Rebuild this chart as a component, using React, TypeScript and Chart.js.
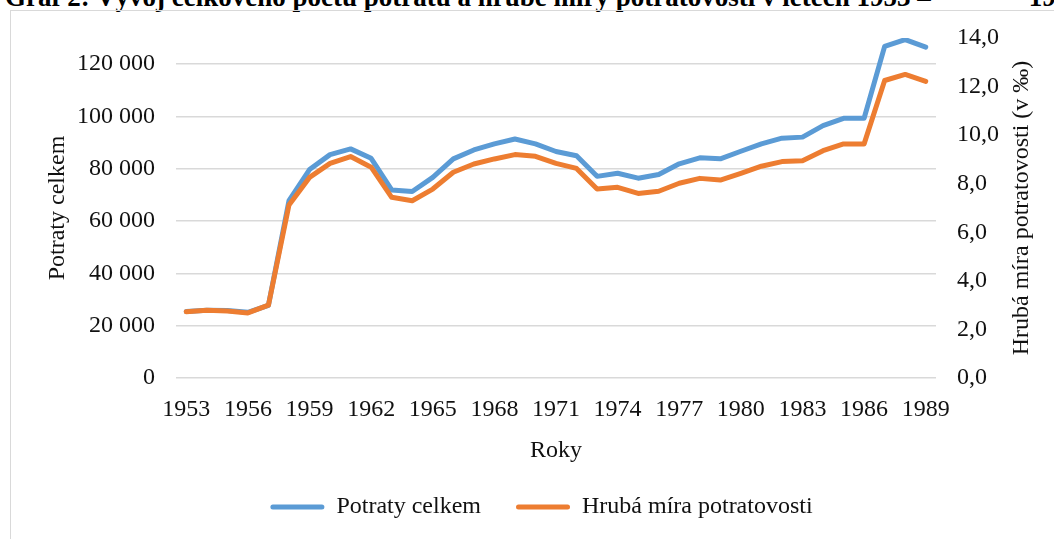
import React, { useEffect, useRef } from 'react';
import { Chart, registerables } from 'chart.js';

Chart.register(...registerables);

const years = [
  '1953', '1954', '1955', '1956', '1957', '1958', '1959', '1960', '1961', '1962',
  '1963', '1964', '1965', '1966', '1967', '1968', '1969', '1970', '1971', '1972',
  '1973', '1974', '1975', '1976', '1977', '1978', '1979', '1980', '1981', '1982',
  '1983', '1984', '1985', '1986', '1987', '1988', '1989',
];

const totalAbortions = [
  25400, 25900, 25800, 25100, 27800, 67800, 79700, 85400, 87600, 84000,
  71900, 71300, 76700, 83800, 87200, 89500, 91400, 89500, 86600, 85000,
  77100, 78300, 76400, 77800, 81900, 84200, 83800, 86700, 89500, 91700,
  92100, 96500, 99300, 99300, 126800, 129400, 126500,
];

const abortionRate = [
  2.73, 2.79, 2.76, 2.68, 3.0, 7.12, 8.26, 8.84, 9.12, 8.68,
  7.44, 7.3, 7.78, 8.47, 8.81, 9.02, 9.2, 9.13, 8.84, 8.63,
  7.78, 7.85, 7.6, 7.69, 8.02, 8.22, 8.15, 8.43, 8.72, 8.91,
  8.95, 9.36, 9.64, 9.64, 12.25, 12.5, 12.21,
];

const leftTicks = [0, 20000, 40000, 60000, 80000, 100000, 120000];
const rightTicks = [0, 2, 4, 6, 8, 10, 12, 14];

const seriesNames = ['Potraty celkem', 'Hrubá míra potratovosti'];
const xTitle = 'Roky';
const leftTitle = 'Potraty celkem';
const rightTitle = 'Hrubá míra potratovosti (v ‰)';
const docTitleStart = 'Graf 2: Vývoj celkového počtu potratů a hrubé míry potratovosti v letech 1953 –';
const docTitleEnd = '1989';

const FONT = '"Liberation Serif", "Times New Roman", serif';
const TEXT = '#111111';
const BLUE = '#5B9BD5';
const ORANGE = '#ED7D31';

const fmtThousands = (v: number) => String(v).replace(/\B(?=(\d{3})+(?!\d))/g, ' ');

const rightTitlePlugin = {
  id: 'rightTitle',
  afterDraw(chart: any) {
    const { ctx, chartArea } = chart;
    const scale = chart.scales.y1;
    ctx.save();
    ctx.font = `24px ${FONT}`;
    ctx.fillStyle = TEXT;
    ctx.textAlign = 'center';
    ctx.textBaseline = 'middle';
    ctx.translate(scale.right - 21, (chartArea.top + chartArea.bottom) / 2);
    ctx.rotate(-Math.PI / 2);
    ctx.fillText(rightTitle, 0, 0);
    ctx.restore();
  },
};

export default function App() {
  const canvasRef = useRef<HTMLCanvasElement | null>(null);

  useEffect(() => {
    if (!canvasRef.current) return;
    Chart.defaults.font.family = FONT;
    Chart.defaults.font.size = 24;
    Chart.defaults.color = TEXT;

    const chart = new Chart(canvasRef.current, {
      type: 'line',
      data: {
        labels: years,
        datasets: [
          {
            label: seriesNames[0],
            data: totalAbortions,
            borderColor: BLUE,
            backgroundColor: BLUE,
            borderWidth: 5,
            pointRadius: 0,
            pointHoverRadius: 0,
            tension: 0,
            borderJoinStyle: 'round',
            borderCapStyle: 'round',
            yAxisID: 'y',
            order: 1,
          },
          {
            label: seriesNames[1],
            data: abortionRate,
            borderColor: ORANGE,
            backgroundColor: ORANGE,
            borderWidth: 5,
            pointRadius: 0,
            pointHoverRadius: 0,
            tension: 0,
            borderJoinStyle: 'round',
            borderCapStyle: 'round',
            yAxisID: 'y1',
            order: 0,
          },
        ],
      },
      options: {
        animation: false,
        responsive: true,
        maintainAspectRatio: false,
        events: [],
        layout: { padding: { left: 40, right: 11, top: 38, bottom: 10 } },
        plugins: {
          tooltip: { enabled: false },
          legend: {
            position: 'bottom',
            labels: {
              boxWidth: 54,
              boxHeight: 5,
              useBorderRadius: true,
              borderRadius: 2.5,
              padding: 35,
              color: TEXT,
              font: { family: FONT, size: 24 },
              sort: (a: any, b: any) => a.datasetIndex - b.datasetIndex,
              generateLabels: (c: any) =>
                Chart.defaults.plugins.legend.labels
                  .generateLabels(c)
                  .map((l: any) => ({ ...l, lineWidth: 0 })),
            },
          },
        },
        scales: {
          x: {
            type: 'category',
            offset: true,
            grid: { display: false, drawTicks: false },
            border: { display: false },
            ticks: {
              autoSkip: false,
              maxRotation: 0,
              minRotation: 0,
              padding: 17,
              color: TEXT,
              font: { family: FONT, size: 24 },
              callback: (_v: any, i: number) => (i % 3 === 0 ? years[i] : ''),
            },
            title: {
              display: true,
              text: xTitle,
              color: TEXT,
              padding: 0,
              font: { family: FONT, size: 24, lineHeight: 0.75 },
            },
            afterFit: (s: any) => {
              s.height = 82;
            },
          },
          y: {
            type: 'linear',
            position: 'left',
            min: 0,
            max: 130000,
            bounds: 'data',
            afterBuildTicks: (s: any) => {
              s.ticks = leftTicks.map((v) => ({ value: v }));
            },
            grid: { color: '#d9d9d9', lineWidth: 1.5, drawTicks: false },
            border: { display: false },
            ticks: {
              padding: 21,
              color: TEXT,
              font: { family: FONT, size: 24 },
              callback: (v: any) => fmtThousands(Number(v)),
            },
            title: {
              display: true,
              text: leftTitle,
              color: TEXT,
              padding: { top: 3.6, bottom: 0 },
              font: { family: FONT, size: 24 },
            },
            afterFit: (s: any) => {
              s.width = 136;
            },
          },
          y1: {
            type: 'linear',
            position: 'right',
            min: 0,
            max: 14,
            bounds: 'data',
            afterBuildTicks: (s: any) => {
              s.ticks = rightTicks.map((v) => ({ value: v }));
            },
            grid: { display: false, drawTicks: false },
            border: { display: false },
            ticks: {
              padding: 21,
              color: TEXT,
              font: { family: FONT, size: 24 },
              callback: (v: any) => Number(v).toFixed(1).replace('.', ','),
            },
            afterFit: (s: any) => {
              s.width = 107;
            },
          },
        },
      },
      plugins: [rightTitlePlugin],
    } as any);

    return () => chart.destroy();
  }, []);

  return (
    <div
      style={{
        position: 'fixed',
        left: 0,
        top: 0,
        width: 1054,
        height: 539,
        overflow: 'hidden',
        background: '#ffffff',
      }}
    >
      <div
        style={{
          position: 'absolute',
          left: 5,
          top: -15.6,
          whiteSpace: 'nowrap',
          fontFamily: FONT,
          fontWeight: 'bold',
          fontSize: 27,
          lineHeight: '27px',
          color: '#000',
        }}
      >
        {docTitleStart}
        <span style={{ marginLeft: 98 }}>{docTitleEnd}</span>
      </div>
      <div
        style={{
          position: 'absolute',
          left: 10,
          top: 10,
          width: 1100,
          height: 600,
          border: '1px solid #d9d9d9',
        }}
      />
      <div style={{ position: 'absolute', left: 0, top: 0, width: 1054, height: 539 }}>
        <canvas ref={canvasRef} />
      </div>
    </div>
  );
}
